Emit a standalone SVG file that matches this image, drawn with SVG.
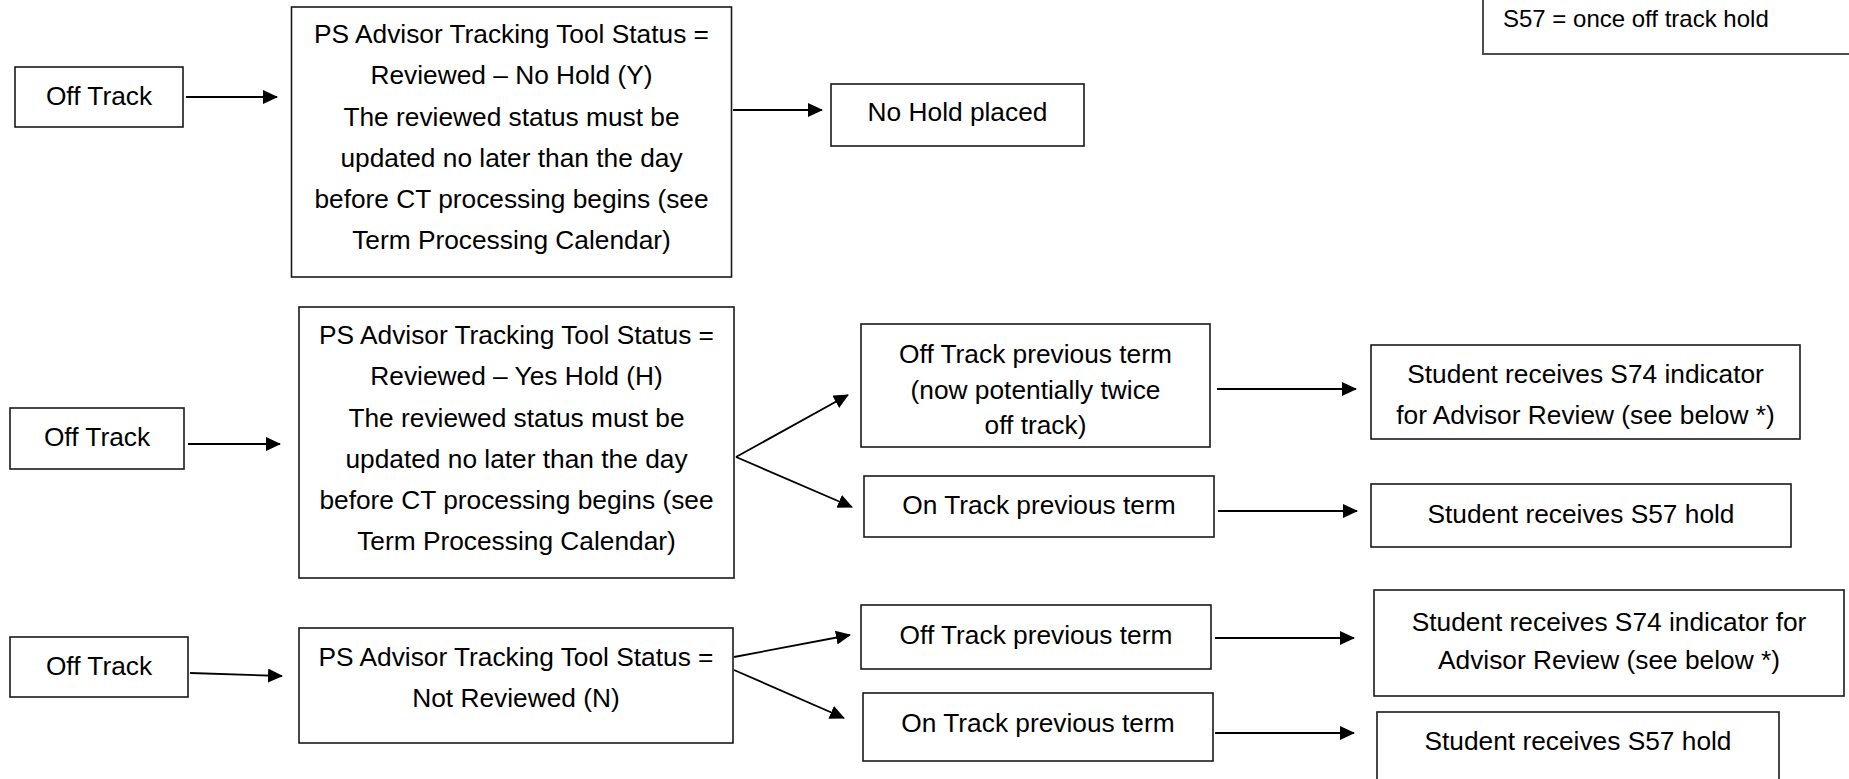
<svg xmlns="http://www.w3.org/2000/svg" width="1849" height="779" viewBox="0 0 1849 779">
  <style>
    .box { fill: #ffffff; stroke: #1a1a1a; stroke-width: 1.6; }
    .legend { fill: #ffffff; stroke: #4d4d4d; stroke-width: 2; }
    .t { font-family: "Liberation Sans", Arial, sans-serif; font-size: 26.3px; fill: #000000; text-anchor: middle; }
    .tl { font-family: "Liberation Sans", Arial, sans-serif; font-size: 24px; fill: #000000; }
    .conn { stroke: #000000; stroke-width: 1.8; fill: none; marker-end: url(#arr); }
  </style>
  <defs>
    <marker id="arr" markerUnits="userSpaceOnUse" markerWidth="16" markerHeight="14" refX="14" refY="7" orient="auto">
      <path d="M0,0 L15,7 L0,14 Z" fill="#000000"/>
    </marker>
  </defs>
  <rect width="1849" height="779" fill="#ffffff"/>

  <g id="legend">
    <rect class="legend" x="1483" y="-5" width="372" height="59"/>
    <text class="tl" x="1503" y="27">S57 = once off track hold</text>
  </g>

  <g id="n1">
    <rect class="box" x="15" y="67" width="168" height="60"/>
    <text class="t" x="99" y="105">Off Track</text>
  </g>
  <g id="n2">
    <rect class="box" x="291.5" y="7" width="440" height="270"/>
    <text class="t" x="511.5" y="43">PS Advisor Tracking Tool Status =</text>
    <text class="t" x="511.5" y="84.3">Reviewed – No Hold (Y)</text>
    <text class="t" x="511.5" y="125.5">The reviewed status must be</text>
    <text class="t" x="511.5" y="166.8">updated no later than the day</text>
    <text class="t" x="511.5" y="208">before CT processing begins (see</text>
    <text class="t" x="511.5" y="249.3">Term Processing Calendar)</text>
  </g>
  <g id="n3">
    <rect class="box" x="831" y="84" width="253" height="62"/>
    <text class="t" x="957.5" y="121">No Hold placed</text>
  </g>

  <g id="n4">
    <rect class="box" x="10" y="408" width="174" height="61"/>
    <text class="t" x="97" y="446">Off Track</text>
  </g>
  <g id="n5">
    <rect class="box" x="299" y="307" width="435" height="271"/>
    <text class="t" x="516.5" y="344">PS Advisor Tracking Tool Status =</text>
    <text class="t" x="516.5" y="385.3">Reviewed – Yes Hold (H)</text>
    <text class="t" x="516.5" y="426.5">The reviewed status must be</text>
    <text class="t" x="516.5" y="467.8">updated no later than the day</text>
    <text class="t" x="516.5" y="509">before CT processing begins (see</text>
    <text class="t" x="516.5" y="550.3">Term Processing Calendar)</text>
  </g>
  <g id="n6">
    <rect class="box" x="861" y="324" width="349" height="123"/>
    <text class="t" x="1035.5" y="363">Off Track previous term</text>
    <text class="t" x="1035.5" y="399">(now potentially twice</text>
    <text class="t" x="1035.5" y="434">off track)</text>
  </g>
  <g id="n7">
    <rect class="box" x="864" y="476" width="350" height="61"/>
    <text class="t" x="1039" y="514">On Track previous term</text>
  </g>
  <g id="n8">
    <rect class="box" x="1371" y="345" width="429" height="94"/>
    <text class="t" x="1585.5" y="383">Student receives S74 indicator</text>
    <text class="t" x="1585.5" y="424">for Advisor Review (see below *)</text>
  </g>
  <g id="n9">
    <rect class="box" x="1371" y="484" width="420" height="63"/>
    <text class="t" x="1581" y="523">Student receives S57 hold</text>
  </g>

  <g id="n10">
    <rect class="box" x="10" y="637" width="178" height="60"/>
    <text class="t" x="99" y="675">Off Track</text>
  </g>
  <g id="n11">
    <rect class="box" x="299" y="628" width="434" height="115"/>
    <text class="t" x="516" y="666">PS Advisor Tracking Tool Status =</text>
    <text class="t" x="516" y="707">Not Reviewed (N)</text>
  </g>
  <g id="n12">
    <rect class="box" x="861" y="605" width="350" height="64"/>
    <text class="t" x="1036" y="644">Off Track previous term</text>
  </g>
  <g id="n13">
    <rect class="box" x="863" y="693" width="350" height="68"/>
    <text class="t" x="1038" y="732">On Track previous term</text>
  </g>
  <g id="n14">
    <rect class="box" x="1374" y="590" width="470" height="106"/>
    <text class="t" x="1609" y="631">Student receives S74 indicator for</text>
    <text class="t" x="1609" y="669">Advisor Review (see below *)</text>
  </g>
  <g id="n15">
    <rect class="box" x="1377" y="712" width="402" height="80"/>
    <text class="t" x="1578" y="750">Student receives S57 hold</text>
  </g>

  <g id="connectors">
    <line class="conn" x1="186" y1="97" x2="277" y2="97"/>
    <line class="conn" x1="733" y1="110" x2="822" y2="110"/>
    <line class="conn" x1="188" y1="444" x2="280" y2="444"/>
    <line class="conn" x1="736" y1="457" x2="848" y2="395"/>
    <line class="conn" x1="736" y1="457" x2="852" y2="507"/>
    <line class="conn" x1="1217" y1="389" x2="1356" y2="389"/>
    <line class="conn" x1="1218" y1="511" x2="1357" y2="511"/>
    <line class="conn" x1="190" y1="673" x2="282" y2="676"/>
    <line class="conn" x1="734" y1="657" x2="850" y2="635"/>
    <line class="conn" x1="734" y1="670" x2="844" y2="718"/>
    <line class="conn" x1="1215" y1="638" x2="1354" y2="638"/>
    <line class="conn" x1="1215" y1="733" x2="1354" y2="733"/>
  </g>
</svg>
